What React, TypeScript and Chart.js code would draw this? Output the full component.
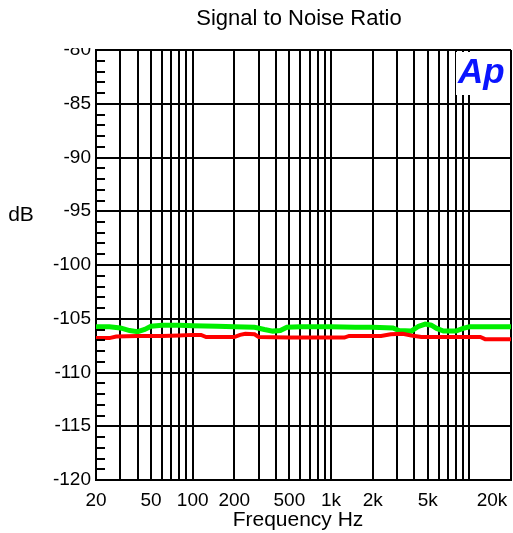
import React, { useEffect, useRef } from 'react';
import { Chart, registerables } from 'chart.js';
Chart.register(...registerables);

const chartTitle = 'Signal to Noise Ratio';
const xAxisTitle = 'Frequency Hz';
const yAxisTitle = 'dB';

const greenFreq = [20, 25, 30, 35, 40, 45, 50, 60, 80, 100, 150, 200, 280, 330, 380, 430, 480, 600, 1000, 1500, 2000, 2800, 3100, 3800, 4300, 4800, 5300, 5800, 6500, 8000, 9000, 10000, 14000, 20000];
const greenValues = [-105.75, -105.75, -105.85, -106.1, -106.2, -106.0, -105.7, -105.6, -105.6, -105.65, -105.7, -105.75, -105.8, -106.0, -106.15, -106.1, -105.8, -105.75, -105.75, -105.8, -105.8, -105.85, -106.1, -106.15, -105.7, -105.5, -105.6, -105.9, -106.15, -106.15, -105.9, -105.75, -105.75, -105.75];

const redFreq = [20, 25, 28, 40, 60, 80, 100, 115, 125, 200, 220, 240, 280, 300, 500, 1000, 1250, 1350, 2300, 2700, 3300, 3800, 4500, 8000, 12000, 13000, 20000];
const redValues = [-106.8, -106.8, -106.65, -106.6, -106.6, -106.55, -106.5, -106.5, -106.7, -106.7, -106.5, -106.4, -106.45, -106.7, -106.75, -106.75, -106.75, -106.6, -106.6, -106.45, -106.4, -106.55, -106.7, -106.7, -106.7, -106.9, -106.9];

const xGridValues = [20, 30, 40, 50, 60, 70, 80, 90, 100, 200, 300, 400, 500, 600, 700, 800, 900, 1000, 2000, 3000, 4000, 5000, 6000, 7000, 8000, 9000, 10000, 20000];
const xLabelValues = [20, 50, 100, 200, 500, 1000, 2000, 5000, 20000];
const xLabelTexts = ['20', '50', '100', '200', '500', '1k', '2k', '5k', '20k'];

const yMin = -120;
const yMax = -80;
const yMajorStep = 5;
const yMinorStep = 1;

const FONT = '"Liberation Sans", Arial, Helvetica, sans-serif';

export default function App() {
  const ref = useRef<HTMLCanvasElement | null>(null);

  useEffect(() => {
    if (!ref.current) return;
    const overlay = {
      id: 'overlay',
      afterDraw(chart: any) {
        const { ctx, chartArea, scales } = chart;
        const xs = scales.x;
        const ys = scales.y;
        ctx.save();
        // minor ticks on left axis
        ctx.strokeStyle = '#000';
        ctx.lineWidth = 2;
        for (let v = yMin; v <= yMax; v += yMinorStep) {
          if (v % yMajorStep === 0) continue;
          const y = Math.round(ys.getPixelForValue(v));
          ctx.beginPath();
          ctx.moveTo(chartArea.left, y);
          ctx.lineTo(chartArea.left + 9, y);
          ctx.stroke();
        }
        // clip top label
        ctx.fillStyle = '#fff';
        ctx.fillRect(30, 28, 64, 20);
        // last x label shifted left
        ctx.fillStyle = '#000';
        ctx.font = `19px ${FONT}`;
        ctx.textAlign = 'center';
        ctx.textBaseline = 'top';
        const lastIdx = xLabelValues.length - 1;
        ctx.fillText(xLabelTexts[lastIdx], xs.getPixelForValue(xLabelValues[lastIdx]) - 19, chartArea.bottom + 11);
        // title
        ctx.textBaseline = 'middle';
        ctx.font = `22px ${FONT}`;
        ctx.fillText(chartTitle, 299, 19);
        // axis titles
        ctx.font = `21px ${FONT}`;
        ctx.fillText(xAxisTitle, 298, 520);
        ctx.font = `21px ${FONT}`;
        ctx.fillText(yAxisTitle, 21, 215);
        // logo
        ctx.fillStyle = '#fff';
        ctx.fillRect(456, 52, 54, 43);
        ctx.fillStyle = '#0a14ff';
        ctx.font = `bold italic 35px ${FONT}`;
        ctx.textAlign = 'left';
        ctx.textBaseline = 'alphabetic';
        ctx.fillText('Ap', 458, 83);
        ctx.restore();
      },
    };

    const chart = new Chart(ref.current, {
      type: 'line',
      data: {
        datasets: [
          {
            label: 'Red',
            data: redFreq.map((f, i) => ({ x: f, y: redValues[i] })),
            borderColor: '#ff0000',
            borderWidth: 4,
            pointRadius: 0,
            tension: 0,
          },
          {
            label: 'Green',
            data: greenFreq.map((f, i) => ({ x: f, y: greenValues[i] })),
            borderColor: '#00ee00',
            borderWidth: 5,
            pointRadius: 0,
            tension: 0,
          },
        ],
      },
      options: {
        animation: false,
        responsive: false,
        layout: { padding: { top: 50, right: 2, left: 0, bottom: 0 } },
        plugins: {
          legend: { display: false },
          title: { display: false },
          tooltip: { enabled: false },
        },
        scales: {
          x: {
            type: 'logarithmic',
            min: 20,
            max: 20000,
            afterBuildTicks: (scale: any) => {
              scale.ticks = xGridValues.map((v) => ({ value: v }));
            },
            afterFit: (scale: any) => {
              scale.height = 53;
              scale.paddingLeft = 0;
              scale.paddingRight = 0;
            },
            ticks: {
              autoSkip: false,
              maxRotation: 0,
              minRotation: 0,
              padding: 9,
              align: 'center',
              color: '#000',
              font: { size: 19, family: FONT },
              callback: (value: any) => {
                const idx = xLabelValues.indexOf(Number(value));
                if (idx < 0 || idx === xLabelValues.length - 1) return '';
                return xLabelTexts[idx];
              },
            },
            grid: { color: '#000', lineWidth: 2, drawTicks: false },
            border: { color: '#000', width: 2 },
          },
          y: {
            type: 'linear',
            min: yMin,
            max: yMax,
            afterFit: (scale: any) => {
              scale.width = 96;
              scale.paddingTop = 0;
              scale.paddingBottom = 0;
            },
            ticks: {
              stepSize: yMajorStep,
              padding: 5,
              color: '#000',
              font: { size: 19, family: FONT },
              callback: (value: any) => String(value),
            },
            grid: { color: '#000', lineWidth: 2, drawTicks: false },
            border: { color: '#000', width: 2 },
          },
        },
      },
      plugins: [overlay],
    } as any);
    return () => chart.destroy();
  }, []);

  return (
    <div style={{ position: 'fixed', left: 0, top: 0, width: 513, height: 533, background: '#fff' }}>
      <canvas ref={ref} width={513} height={533} />
    </div>
  );
}
